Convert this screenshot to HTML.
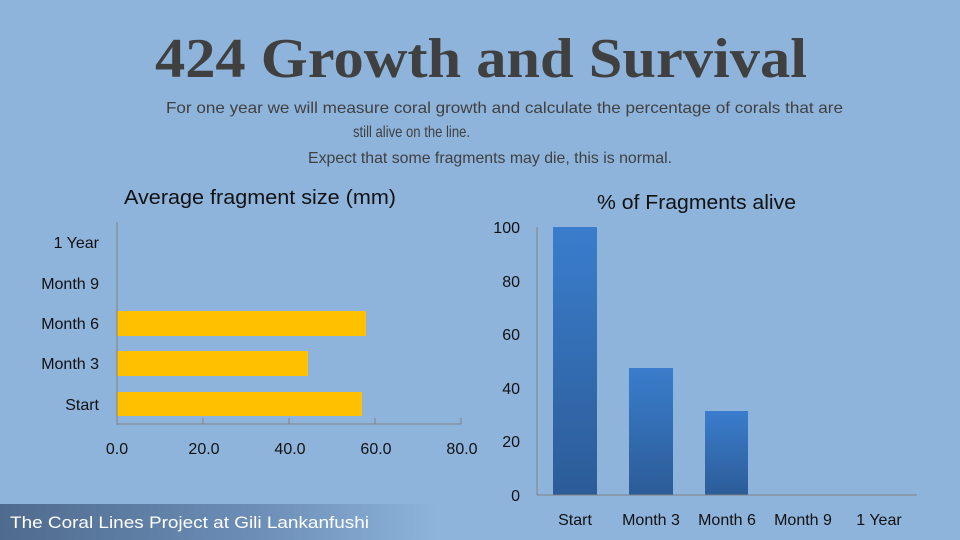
<!DOCTYPE html>
<html><head><meta charset="utf-8"><style>
html,body{margin:0;padding:0;background:#8eb4dc;}
svg{display:block;}
</style></head><body>
<svg width="960" height="540" viewBox="0 0 960 540" xmlns="http://www.w3.org/2000/svg" font-family="Liberation Sans, sans-serif">
<defs>
<linearGradient id="bar" x1="0" y1="0" x2="0" y2="1">
<stop offset="0" stop-color="#3a7dcc"/><stop offset="1" stop-color="#2c5c98"/></linearGradient>
<linearGradient id="foot" x1="0" y1="0" x2="1" y2="0">
<stop offset="0" stop-color="#4f6b8e"/><stop offset="0.6" stop-color="#6d8fb8"/><stop offset="1" stop-color="#8eb4dc"/></linearGradient>
</defs>
<rect width="960" height="540" fill="#8eb4dc"/>
<text x="155" y="77" style="font-family:'Liberation Serif',serif" font-weight="bold" font-size="56" fill="#404040" textLength="652" lengthAdjust="spacingAndGlyphs">424 Growth and Survival</text>
<g fill="#404040" font-size="16">
<text x="166" y="113" textLength="677" lengthAdjust="spacingAndGlyphs">For one year we will measure coral growth and calculate the percentage of corals that are</text>
<text x="353" y="137" textLength="117" lengthAdjust="spacingAndGlyphs">still alive on the line.</text>
<text x="308" y="163" textLength="364" lengthAdjust="spacingAndGlyphs">Expect that some fragments may die, this is normal.</text>
</g>
<text x="124" y="204" font-size="20" fill="#111" textLength="272" lengthAdjust="spacingAndGlyphs">Average fragment size (mm)</text>
<g fill="#ffc000">
<rect x="117" y="311" width="249" height="25"/>
<rect x="117" y="351" width="191" height="25"/>
<rect x="117" y="392" width="245" height="24"/>
</g>
<g stroke="#808080" stroke-width="1">
<line x1="117" y1="222" x2="117" y2="425"/>
<line x1="117" y1="424" x2="461" y2="424"/>
<line x1="203" y1="418" x2="203" y2="424"/>
<line x1="289" y1="418" x2="289" y2="424"/>
<line x1="375" y1="418" x2="375" y2="424"/>
<line x1="461" y1="418" x2="461" y2="424"/>
</g>
<g font-size="16" fill="#111" text-anchor="end">
<text x="99" y="248">1 Year</text>
<text x="99" y="289">Month 9</text>
<text x="99" y="329">Month 6</text>
<text x="99" y="369">Month 3</text>
<text x="99" y="410">Start</text>
</g>
<g font-size="16" fill="#111" text-anchor="middle">
<text x="117" y="454">0.0</text>
<text x="204" y="454">20.0</text>
<text x="290" y="454">40.0</text>
<text x="376" y="454">60.0</text>
<text x="462" y="454">80.0</text>
</g>
<text x="597" y="209" font-size="20" fill="#111" textLength="199" lengthAdjust="spacingAndGlyphs">% of Fragments alive</text>
<rect x="553" y="227" width="44" height="268" fill="url(#bar)"/>
<rect x="629" y="368" width="44" height="127" fill="url(#bar)"/>
<rect x="705" y="411" width="43" height="84" fill="url(#bar)"/>
<g stroke="#808080" stroke-width="1">
<line x1="537" y1="227" x2="537" y2="495"/>
<line x1="537" y1="495" x2="917" y2="495"/>
</g>
<g font-size="16" fill="#111" text-anchor="end">
<text x="520" y="233">100</text>
<text x="520" y="287">80</text>
<text x="520" y="340">60</text>
<text x="520" y="394">40</text>
<text x="520" y="447">20</text>
<text x="520" y="501">0</text>
</g>
<g font-size="16" fill="#111" text-anchor="middle">
<text x="575" y="525">Start</text>
<text x="651" y="525">Month 3</text>
<text x="727" y="525">Month 6</text>
<text x="803" y="525">Month 9</text>
<text x="879" y="525">1 Year</text>
</g>
<rect x="0" y="504" width="440" height="36" fill="url(#foot)"/>
<text x="10" y="528" font-size="17" fill="#fff" textLength="359" lengthAdjust="spacingAndGlyphs">The Coral Lines Project at Gili Lankanfushi</text>
</svg>
</body></html>
